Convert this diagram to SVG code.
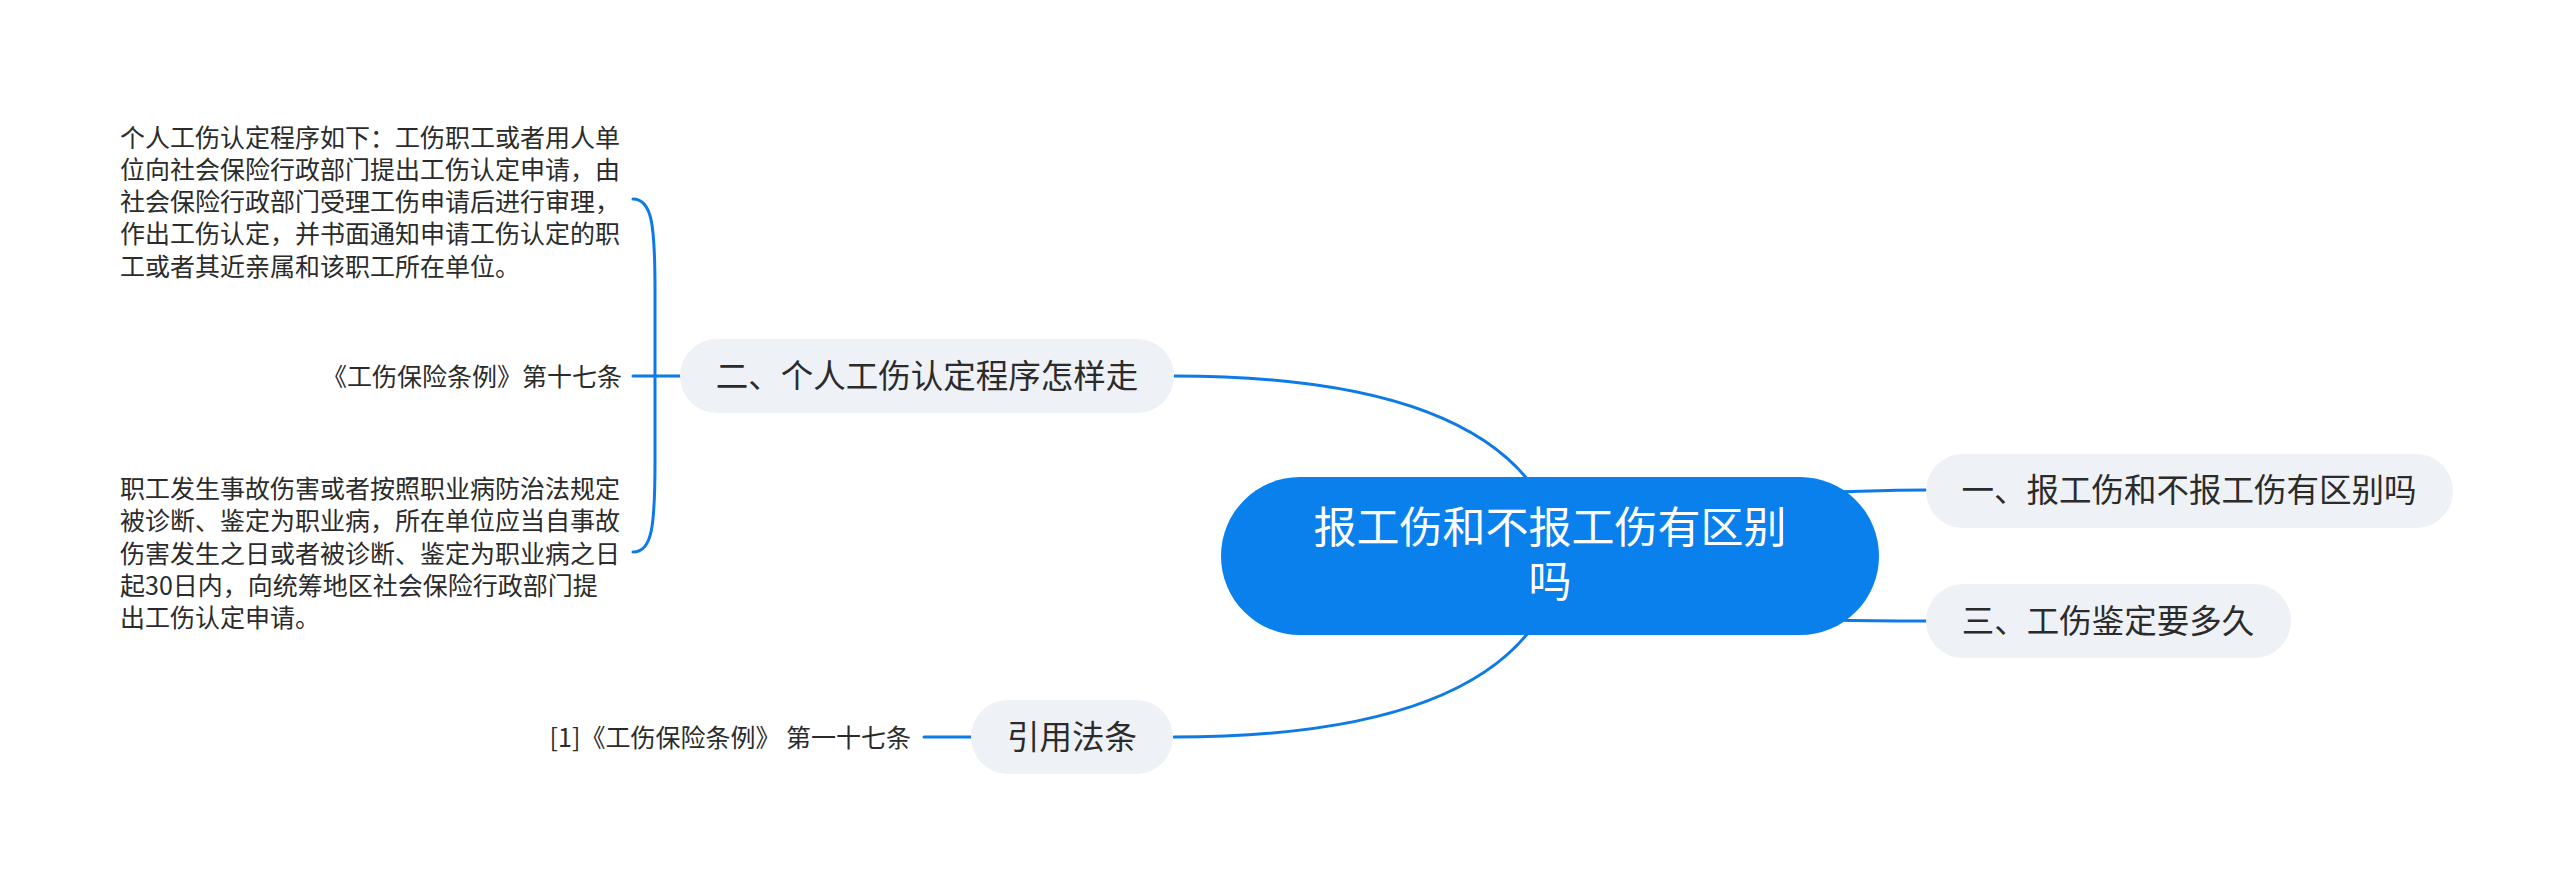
<svg xmlns="http://www.w3.org/2000/svg" width="2560" height="881" viewBox="0 0 2560 881">
<style>
.bg{fill:#ffffff}
.conn{fill:none;stroke:#0d7ae6;stroke-width:3;stroke-linecap:round}
.root{fill:#0a80ec}
.sub{fill:#eef1f5}
.t{font-family:"Noto Sans CJK SC","Noto Sans",sans-serif;fill:#2b2b2b}
.rt{font-family:"Liberation Sans","Noto Sans CJK SC",sans-serif;fill:#ffffff;font-size:43px}
.m{font-size:32.5px}
.s{font-size:25px}
</style>
<rect class="bg" x="0" y="0" width="2560" height="881"/>
<g id="connectors">
<path class="conn" d="M1174,376 Q1450,376 1532,485"/>
<path class="conn" d="M1174,737 Q1450,737 1532,628"/>
<path class="conn" d="M1830,492 C1870,491 1890,490 1926,490"/>
<path class="conn" d="M1830,620 C1870,621 1890,621 1926,621"/>
<path class="conn" d="M680,376 H633"/>
<path class="conn" d="M655,376 V290 C655,225 652,199 633,199"/>
<path class="conn" d="M655,376 V462 C655,527 652,552 633,552"/>
<path class="conn" d="M971,737 H924"/>
</g>
<g id="root">
<rect class="root" x="1221" y="477" width="658" height="158" rx="79"/>
<text class="rt" text-anchor="middle"><tspan x="1550" y="543">报工伤和不报工伤有区别</tspan><tspan x="1550" y="597">吗</tspan></text>
</g>
<g id="n1">
<rect class="sub" x="1926" y="454" width="527" height="74" rx="37"/>
<text class="t m" x="2189" y="502" text-anchor="middle">一、报工伤和不报工伤有区别吗</text>
</g>
<g id="n3">
<rect class="sub" x="1926" y="584" width="365" height="74" rx="37"/>
<text class="t m" x="2108" y="633" text-anchor="middle">三、工伤鉴定要多久</text>
</g>
<g id="n2">
<rect class="sub" x="680" y="339" width="494" height="74" rx="37"/>
<text class="t m" x="927" y="388" text-anchor="middle">二、个人工伤认定程序怎样走</text>
</g>
<g id="n4">
<rect class="sub" x="971" y="700" width="202" height="74" rx="37"/>
<text class="t m" x="1072" y="749" text-anchor="middle">引用法条</text>
</g>
<g id="n2a">
<text class="t s" x="120" y="147">个人工伤认定程序如下：工伤职工或者用人单</text>
<text class="t s" x="120" y="179">位向社会保险行政部门提出工伤认定申请，由</text>
<text class="t s" x="120" y="211">社会保险行政部门受理工伤申请后进行审理，</text>
<text class="t s" x="120" y="243">作出工伤认定，并书面通知申请工伤认定的职</text>
<text class="t s" x="120" y="276">工或者其近亲属和该职工所在单位。</text>
</g>
<g id="n2b">
<text class="t s" x="622" y="386" text-anchor="end">《工伤保险条例》第十七条</text>
</g>
<g id="n2c">
<text class="t s" x="120" y="498">职工发生事故伤害或者按照职业病防治法规定</text>
<text class="t s" x="120" y="530">被诊断、鉴定为职业病，所在单位应当自事故</text>
<text class="t s" x="120" y="563">伤害发生之日或者被诊断、鉴定为职业病之日</text>
<text class="t s" x="120" y="595">起30日内，向统筹地区社会保险行政部门提</text>
<text class="t s" x="120" y="627">出工伤认定申请。</text>
</g>
<g id="n4a">
<text class="t s" x="911" y="747" text-anchor="end">[1]《工伤保险条例》 第一十七条</text>
</g>
</svg>
